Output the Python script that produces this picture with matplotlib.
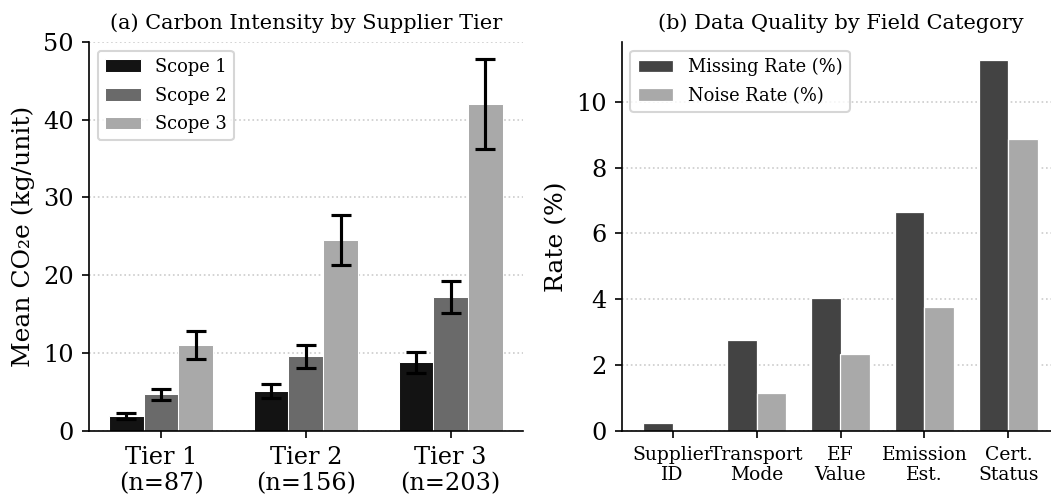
import matplotlib
matplotlib.use("Agg")
import matplotlib.pyplot as plt
import numpy as np

# ---- data ----
tiers = ["Tier 1\n(n=87)", "Tier 2\n(n=156)", "Tier 3\n(n=203)"]
scope_names = ["Scope 1", "Scope 2", "Scope 3"]
scope1 = [1.9, 5.1, 8.8]
scope2 = [4.7, 9.6, 17.2]
scope3 = [11.1, 24.5, 42.0]
scope1_err = [0.4, 0.9, 1.3]
scope2_err = [0.7, 1.5, 2.1]
scope3_err = [1.8, 3.2, 5.8]

fields = ["Supplier\nID", "Transport\nMode", "EF\nValue", "Emission\nEst.", "Cert.\nStatus"]
missing_rate = [0.25, 2.75, 4.05, 6.66, 11.26]
noise_rate = [0.03, 1.14, 2.34, 3.77, 8.86]

scope_colors = ["#131313", "#6a6a6a", "#a9a9a9"]
missing_color = "#434343"
noise_color = "#a9a9a9"

plt.rcParams["font.family"] = ["DejaVu Serif"]

W, H = 1051, 499
fig = plt.figure(figsize=(W / 150, H / 150), dpi=150)

# ---- left panel ----
ax1 = fig.add_axes([88.7 / W, (H - 431) / H, 434.3 / W, 389.3 / H])
x = np.arange(len(tiers))
bw = 0.24
vals = [scope1, scope2, scope3]
errs = [scope1_err, scope2_err, scope3_err]
for i, (v, e) in enumerate(zip(vals, errs)):
    ax1.bar(x + (i - 1) * bw, v, bw, yerr=e, color=scope_colors[i],
            edgecolor="white", linewidth=0.5, label=scope_names[i],
            error_kw=dict(ecolor="black", elinewidth=1.5, capsize=5, capthick=1.5),
            zorder=2)
ax1.set_xlim(-0.5, 2.5)
ax1.set_ylim(0, 50)
ax1.set_xticks(x)
ax1.set_xticklabels(tiers, fontsize=11.5)
ax1.tick_params(axis="y", labelsize=11.5)
ax1.set_ylabel("Mean CO\u2082e (kg/unit)", fontsize=12)
ax1.set_title("(a) Carbon Intensity by Supplier Tier", fontsize=10, pad=6)
ax1.yaxis.grid(True, linestyle=":", color="#cccccc", linewidth=0.8, zorder=0)
ax1.set_axisbelow(True)
for s in ["top", "right"]:
    ax1.spines[s].set_visible(False)
ax1.legend(loc="upper left", fontsize=8.6, labelspacing=0.6)

# ---- right panel ----
ax2 = fig.add_axes([621.5 / W, (H - 431) / H, 438.0 / W, 389.3 / H])
xf = np.arange(len(fields))
bw2 = 0.35
ax2.bar(xf - bw2 / 2, missing_rate, bw2, color=missing_color, edgecolor="white",
        linewidth=0.6, label="Missing Rate (%)", zorder=2)
ax2.bar(xf + bw2 / 2, noise_rate, bw2, color=noise_color, edgecolor="white",
        linewidth=0.6, label="Noise Rate (%)", zorder=2)
ax2.set_xlim(-0.61, 4.61)
ax2.set_xticks(xf)
ax2.set_xticklabels(fields, fontsize=9)
ax2.tick_params(axis="y", labelsize=11.5)
ax2.set_yticks([0, 2, 4, 6, 8, 10])
ax2.set_ylabel("Rate (%)", fontsize=12)
ax2.set_title("(b) Data Quality by Field Category", fontsize=10, pad=6)
ax2.yaxis.grid(True, linestyle=":", color="#cccccc", linewidth=0.8, zorder=0)
ax2.set_axisbelow(True)
for s in ["top", "right"]:
    ax2.spines[s].set_visible(False)
ax2.legend(loc="upper left", fontsize=8.6, labelspacing=0.6)

fig.savefig("out.png", dpi=150)
